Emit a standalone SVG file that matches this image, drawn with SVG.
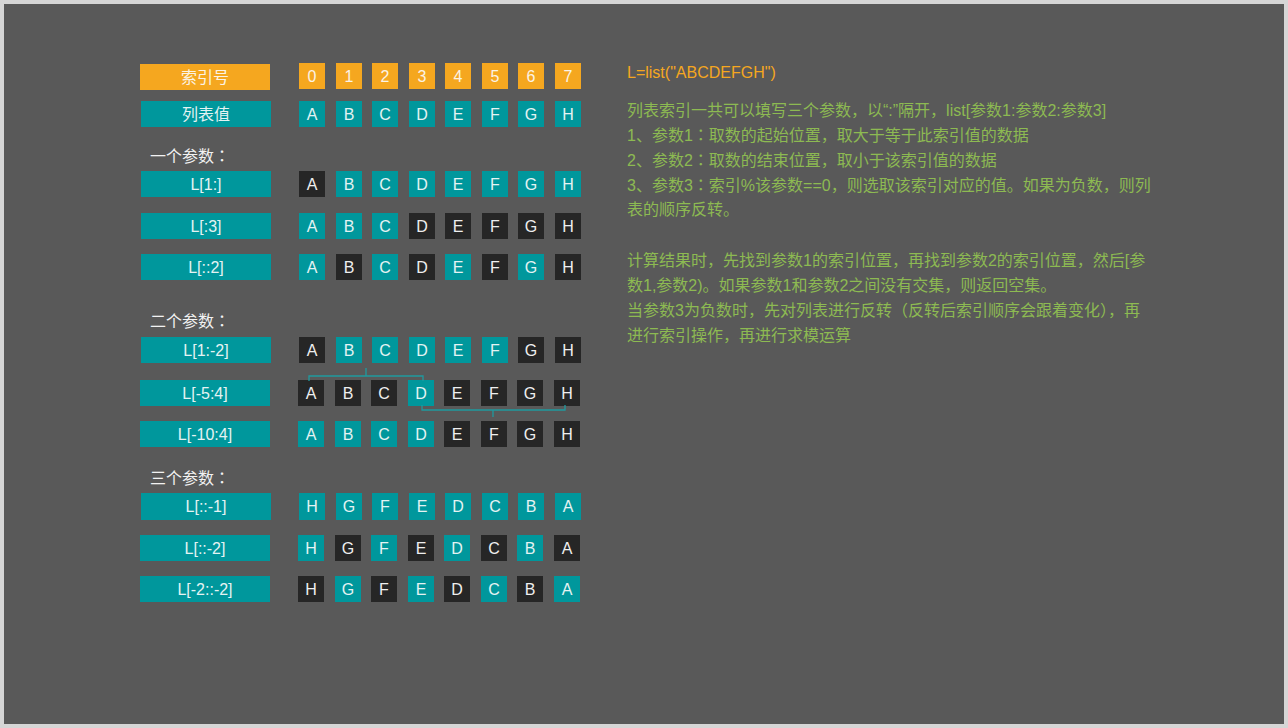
<svg xmlns="http://www.w3.org/2000/svg" width="1288" height="728" viewBox="0 0 1288 728">
<style>
  .lb{font-family:"Liberation Sans","Noto Sans CJK SC",sans-serif;font-size:16px;text-anchor:middle;}
  .or{fill:#f5a71f;}
  .tl{fill:#00979c;}
  .dk{fill:#262626;}
  .to{fill:#fbf3e6;}
  .tt{fill:#e4f3f3;}
  .td{fill:#efefef;}
  .hd{font-family:"Liberation Sans","Noto Sans CJK SC",sans-serif;font-size:16px;fill:#f2f2f2;}
  .gr{font-family:"Liberation Sans","Noto Sans CJK SC",sans-serif;font-size:16px;fill:#8dba52;}
  .ttl{font-family:"Liberation Sans","Noto Sans CJK SC",sans-serif;font-size:16px;fill:#f5a71f;}
  .cl{font-family:"Noto Sans CJK JP",sans-serif;}
  .br{fill:none;stroke:#1f9a9f;stroke-width:1.3;}
</style>
<rect x="0" y="0" width="1288" height="728" fill="#d6d6d6"/>
<rect x="4" y="4" width="1280" height="720" fill="#595959"/>

<g id="row-index">
  <rect class="or" x="140" y="64" width="130" height="26"/>
  <text class="lb to" x="205" y="82.5">索引号</text>
  <rect class="or" x="299" y="63" width="26" height="26"/><text class="lb to" x="312" y="81.5">0</text>
  <rect class="or" x="336" y="63" width="26" height="26"/><text class="lb to" x="349" y="81.5">1</text>
  <rect class="or" x="372" y="63" width="26" height="26"/><text class="lb to" x="385" y="81.5">2</text>
  <rect class="or" x="409" y="63" width="26" height="26"/><text class="lb to" x="422" y="81.5">3</text>
  <rect class="or" x="445" y="63" width="26" height="26"/><text class="lb to" x="458" y="81.5">4</text>
  <rect class="or" x="482" y="63" width="26" height="26"/><text class="lb to" x="495" y="81.5">5</text>
  <rect class="or" x="518" y="63" width="26" height="26"/><text class="lb to" x="531" y="81.5">6</text>
  <rect class="or" x="555" y="63" width="26" height="26"/><text class="lb to" x="568" y="81.5">7</text>
</g>

<g id="row-values">
  <rect class="tl" x="141" y="101" width="130" height="26"/>
  <text class="lb tt" x="206" y="119.5">列表值</text>
  <rect class="tl" x="299" y="101" width="26" height="26"/><text class="lb tt" x="312" y="119.5">A</text>
  <rect class="tl" x="336" y="101" width="26" height="26"/><text class="lb tt" x="349" y="119.5">B</text>
  <rect class="tl" x="372" y="101" width="26" height="26"/><text class="lb tt" x="385" y="119.5">C</text>
  <rect class="tl" x="409" y="101" width="26" height="26"/><text class="lb tt" x="422" y="119.5">D</text>
  <rect class="tl" x="445" y="101" width="26" height="26"/><text class="lb tt" x="458" y="119.5">E</text>
  <rect class="tl" x="482" y="101" width="26" height="26"/><text class="lb tt" x="495" y="119.5">F</text>
  <rect class="tl" x="518" y="101" width="26" height="26"/><text class="lb tt" x="531" y="119.5">G</text>
  <rect class="tl" x="555" y="101" width="26" height="26"/><text class="lb tt" x="568" y="119.5">H</text>
</g>

<text class="hd" x="150" y="162">一个参数<tspan class="cl">：</tspan></text>

<g id="row-L1">
  <rect class="tl" x="141" y="171" width="130" height="26"/>
  <text class="lb tt" x="206" y="189.5">L[1:]</text>
  <rect class="dk" x="299" y="171" width="26" height="26"/><text class="lb td" x="312" y="189.5">A</text>
  <rect class="tl" x="336" y="171" width="26" height="26"/><text class="lb tt" x="349" y="189.5">B</text>
  <rect class="tl" x="372" y="171" width="26" height="26"/><text class="lb tt" x="385" y="189.5">C</text>
  <rect class="tl" x="409" y="171" width="26" height="26"/><text class="lb tt" x="422" y="189.5">D</text>
  <rect class="tl" x="445" y="171" width="26" height="26"/><text class="lb tt" x="458" y="189.5">E</text>
  <rect class="tl" x="482" y="171" width="26" height="26"/><text class="lb tt" x="495" y="189.5">F</text>
  <rect class="tl" x="518" y="171" width="26" height="26"/><text class="lb tt" x="531" y="189.5">G</text>
  <rect class="tl" x="555" y="171" width="26" height="26"/><text class="lb tt" x="568" y="189.5">H</text>
</g>

<g id="row-L3">
  <rect class="tl" x="141" y="213" width="130" height="26"/>
  <text class="lb tt" x="206" y="231.5">L[:3]</text>
  <rect class="tl" x="299" y="213" width="26" height="26"/><text class="lb tt" x="312" y="231.5">A</text>
  <rect class="tl" x="336" y="213" width="26" height="26"/><text class="lb tt" x="349" y="231.5">B</text>
  <rect class="tl" x="372" y="213" width="26" height="26"/><text class="lb tt" x="385" y="231.5">C</text>
  <rect class="dk" x="409" y="213" width="26" height="26"/><text class="lb td" x="422" y="231.5">D</text>
  <rect class="dk" x="445" y="213" width="26" height="26"/><text class="lb td" x="458" y="231.5">E</text>
  <rect class="dk" x="482" y="213" width="26" height="26"/><text class="lb td" x="495" y="231.5">F</text>
  <rect class="dk" x="518" y="213" width="26" height="26"/><text class="lb td" x="531" y="231.5">G</text>
  <rect class="dk" x="555" y="213" width="26" height="26"/><text class="lb td" x="568" y="231.5">H</text>
</g>

<g id="row-L2step">
  <rect class="tl" x="141" y="254" width="130" height="26"/>
  <text class="lb tt" x="206" y="272.5">L[::2]</text>
  <rect class="tl" x="299" y="254" width="26" height="26"/><text class="lb tt" x="312" y="272.5">A</text>
  <rect class="dk" x="336" y="254" width="26" height="26"/><text class="lb td" x="349" y="272.5">B</text>
  <rect class="tl" x="372" y="254" width="26" height="26"/><text class="lb tt" x="385" y="272.5">C</text>
  <rect class="dk" x="409" y="254" width="26" height="26"/><text class="lb td" x="422" y="272.5">D</text>
  <rect class="tl" x="445" y="254" width="26" height="26"/><text class="lb tt" x="458" y="272.5">E</text>
  <rect class="dk" x="482" y="254" width="26" height="26"/><text class="lb td" x="495" y="272.5">F</text>
  <rect class="tl" x="518" y="254" width="26" height="26"/><text class="lb tt" x="531" y="272.5">G</text>
  <rect class="dk" x="555" y="254" width="26" height="26"/><text class="lb td" x="568" y="272.5">H</text>
</g>

<text class="hd" x="150" y="327">二个参数<tspan class="cl">：</tspan></text>

<g id="row-L1m2">
  <rect class="tl" x="141" y="337" width="130" height="26"/>
  <text class="lb tt" x="206" y="355.5">L[1:-2]</text>
  <rect class="dk" x="299" y="337" width="26" height="26"/><text class="lb td" x="312" y="355.5">A</text>
  <rect class="tl" x="336" y="337" width="26" height="26"/><text class="lb tt" x="349" y="355.5">B</text>
  <rect class="tl" x="372" y="337" width="26" height="26"/><text class="lb tt" x="385" y="355.5">C</text>
  <rect class="tl" x="409" y="337" width="26" height="26"/><text class="lb tt" x="422" y="355.5">D</text>
  <rect class="tl" x="445" y="337" width="26" height="26"/><text class="lb tt" x="458" y="355.5">E</text>
  <rect class="tl" x="482" y="337" width="26" height="26"/><text class="lb tt" x="495" y="355.5">F</text>
  <rect class="dk" x="518" y="337" width="26" height="26"/><text class="lb td" x="531" y="355.5">G</text>
  <rect class="dk" x="555" y="337" width="26" height="26"/><text class="lb td" x="568" y="355.5">H</text>
</g>

<g id="row-Lm5_4">
  <rect class="tl" x="140" y="380" width="130" height="26"/>
  <text class="lb tt" x="205" y="398.5">L[-5:4]</text>
  <rect class="dk" x="298" y="380" width="26" height="26"/><text class="lb td" x="311" y="398.5">A</text>
  <rect class="dk" x="335" y="380" width="26" height="26"/><text class="lb td" x="348" y="398.5">B</text>
  <rect class="dk" x="371" y="380" width="26" height="26"/><text class="lb td" x="384" y="398.5">C</text>
  <rect class="tl" x="408" y="380" width="26" height="26"/><text class="lb tt" x="421" y="398.5">D</text>
  <rect class="dk" x="444" y="380" width="26" height="26"/><text class="lb td" x="457" y="398.5">E</text>
  <rect class="dk" x="481" y="380" width="26" height="26"/><text class="lb td" x="494" y="398.5">F</text>
  <rect class="dk" x="517" y="380" width="26" height="26"/><text class="lb td" x="530" y="398.5">G</text>
  <rect class="dk" x="554" y="380" width="26" height="26"/><text class="lb td" x="567" y="398.5">H</text>
</g>

<g id="row-Lm10_4">
  <rect class="tl" x="140" y="421" width="130" height="26"/>
  <text class="lb tt" x="205" y="439.5">L[-10:4]</text>
  <rect class="tl" x="298" y="421" width="26" height="26"/><text class="lb tt" x="311" y="439.5">A</text>
  <rect class="tl" x="335" y="421" width="26" height="26"/><text class="lb tt" x="348" y="439.5">B</text>
  <rect class="tl" x="371" y="421" width="26" height="26"/><text class="lb tt" x="384" y="439.5">C</text>
  <rect class="tl" x="408" y="421" width="26" height="26"/><text class="lb tt" x="421" y="439.5">D</text>
  <rect class="dk" x="444" y="421" width="26" height="26"/><text class="lb td" x="457" y="439.5">E</text>
  <rect class="dk" x="481" y="421" width="26" height="26"/><text class="lb td" x="494" y="439.5">F</text>
  <rect class="dk" x="517" y="421" width="26" height="26"/><text class="lb td" x="530" y="439.5">G</text>
  <rect class="dk" x="554" y="421" width="26" height="26"/><text class="lb td" x="567" y="439.5">H</text>
</g>

<text class="hd" x="150" y="484">三个参数<tspan class="cl">：</tspan></text>

<g id="row-Lrev1">
  <rect class="tl" x="141" y="493" width="130" height="27"/>
  <text class="lb tt" x="206" y="512">L[::-1]</text>
  <rect class="tl" x="299" y="493" width="26" height="27"/><text class="lb tt" x="312" y="512">H</text>
  <rect class="tl" x="336" y="493" width="26" height="27"/><text class="lb tt" x="349" y="512">G</text>
  <rect class="tl" x="372" y="493" width="26" height="27"/><text class="lb tt" x="385" y="512">F</text>
  <rect class="tl" x="409" y="493" width="26" height="27"/><text class="lb tt" x="422" y="512">E</text>
  <rect class="tl" x="445" y="493" width="26" height="27"/><text class="lb tt" x="458" y="512">D</text>
  <rect class="tl" x="482" y="493" width="26" height="27"/><text class="lb tt" x="495" y="512">C</text>
  <rect class="tl" x="518" y="493" width="26" height="27"/><text class="lb tt" x="531" y="512">B</text>
  <rect class="tl" x="555" y="493" width="26" height="27"/><text class="lb tt" x="568" y="512">A</text>
</g>

<g id="row-Lrev2">
  <rect class="tl" x="140" y="535" width="130" height="26"/>
  <text class="lb tt" x="205" y="553.5">L[::-2]</text>
  <rect class="tl" x="298" y="535" width="26" height="26"/><text class="lb tt" x="311" y="553.5">H</text>
  <rect class="dk" x="335" y="535" width="26" height="26"/><text class="lb td" x="348" y="553.5">G</text>
  <rect class="tl" x="371" y="535" width="26" height="26"/><text class="lb tt" x="384" y="553.5">F</text>
  <rect class="dk" x="408" y="535" width="26" height="26"/><text class="lb td" x="421" y="553.5">E</text>
  <rect class="tl" x="444" y="535" width="26" height="26"/><text class="lb tt" x="457" y="553.5">D</text>
  <rect class="dk" x="481" y="535" width="26" height="26"/><text class="lb td" x="494" y="553.5">C</text>
  <rect class="tl" x="517" y="535" width="26" height="26"/><text class="lb tt" x="530" y="553.5">B</text>
  <rect class="dk" x="554" y="535" width="26" height="26"/><text class="lb td" x="567" y="553.5">A</text>
</g>

<g id="row-Lm2rev2">
  <rect class="tl" x="140" y="576" width="130" height="26"/>
  <text class="lb tt" x="205" y="594.5">L[-2::-2]</text>
  <rect class="dk" x="298" y="576" width="26" height="26"/><text class="lb td" x="311" y="594.5">H</text>
  <rect class="tl" x="335" y="576" width="26" height="26"/><text class="lb tt" x="348" y="594.5">G</text>
  <rect class="dk" x="371" y="576" width="26" height="26"/><text class="lb td" x="384" y="594.5">F</text>
  <rect class="tl" x="408" y="576" width="26" height="26"/><text class="lb tt" x="421" y="594.5">E</text>
  <rect class="dk" x="444" y="576" width="26" height="26"/><text class="lb td" x="457" y="594.5">D</text>
  <rect class="tl" x="481" y="576" width="26" height="26"/><text class="lb tt" x="494" y="594.5">C</text>
  <rect class="dk" x="517" y="576" width="26" height="26"/><text class="lb td" x="530" y="594.5">B</text>
  <rect class="tl" x="554" y="576" width="26" height="26"/><text class="lb tt" x="567" y="594.5">A</text>
</g>

<g id="connectors">
  <path class="br" d="M309,381 V376 H423 V381"/>
  <path class="br" d="M366,376 V368"/>
  <path class="br" d="M422,405 V410 H565 V405"/>
  <path class="br" d="M493,410 V417"/>
</g>

<g id="notes">
  <text class="ttl" x="627" y="77.5">L=list("ABCDEFGH")</text>
  <text class="gr" x="627" y="115.5">列表索引一共可以填写三个参数，以“:”隔开，list[参数1:参数2:参数3]</text>
  <text class="gr" x="627" y="140.5">1、参数1<tspan class="cl">：</tspan>取数的起始位置，取大于等于此索引值的数据</text>
  <text class="gr" x="627" y="165.5">2、参数2<tspan class="cl">：</tspan>取数的结束位置，取小于该索引值的数据</text>
  <text class="gr" x="627" y="190.5">3、参数3<tspan class="cl">：</tspan>索引%该参数==0，则选取该索引对应的值。如果为负数，则列</text>
  <text class="gr" x="627" y="214.5">表的顺序反转。</text>
  <text class="gr" x="627" y="265.5">计算结果时，先找到参数1的索引位置，再找到参数2的索引位置，然后[参</text>
  <text class="gr" x="627" y="290.5">数1,参数2)。如果参数1和参数2之间没有交集，则返回空集。</text>
  <text class="gr" x="627" y="315.5">当参数3为负数时，先对列表进行反转（反转后索引顺序会跟着变化），再</text>
  <text class="gr" x="627" y="340.5">进行索引操作，再进行求模运算</text>
</g>
</svg>
